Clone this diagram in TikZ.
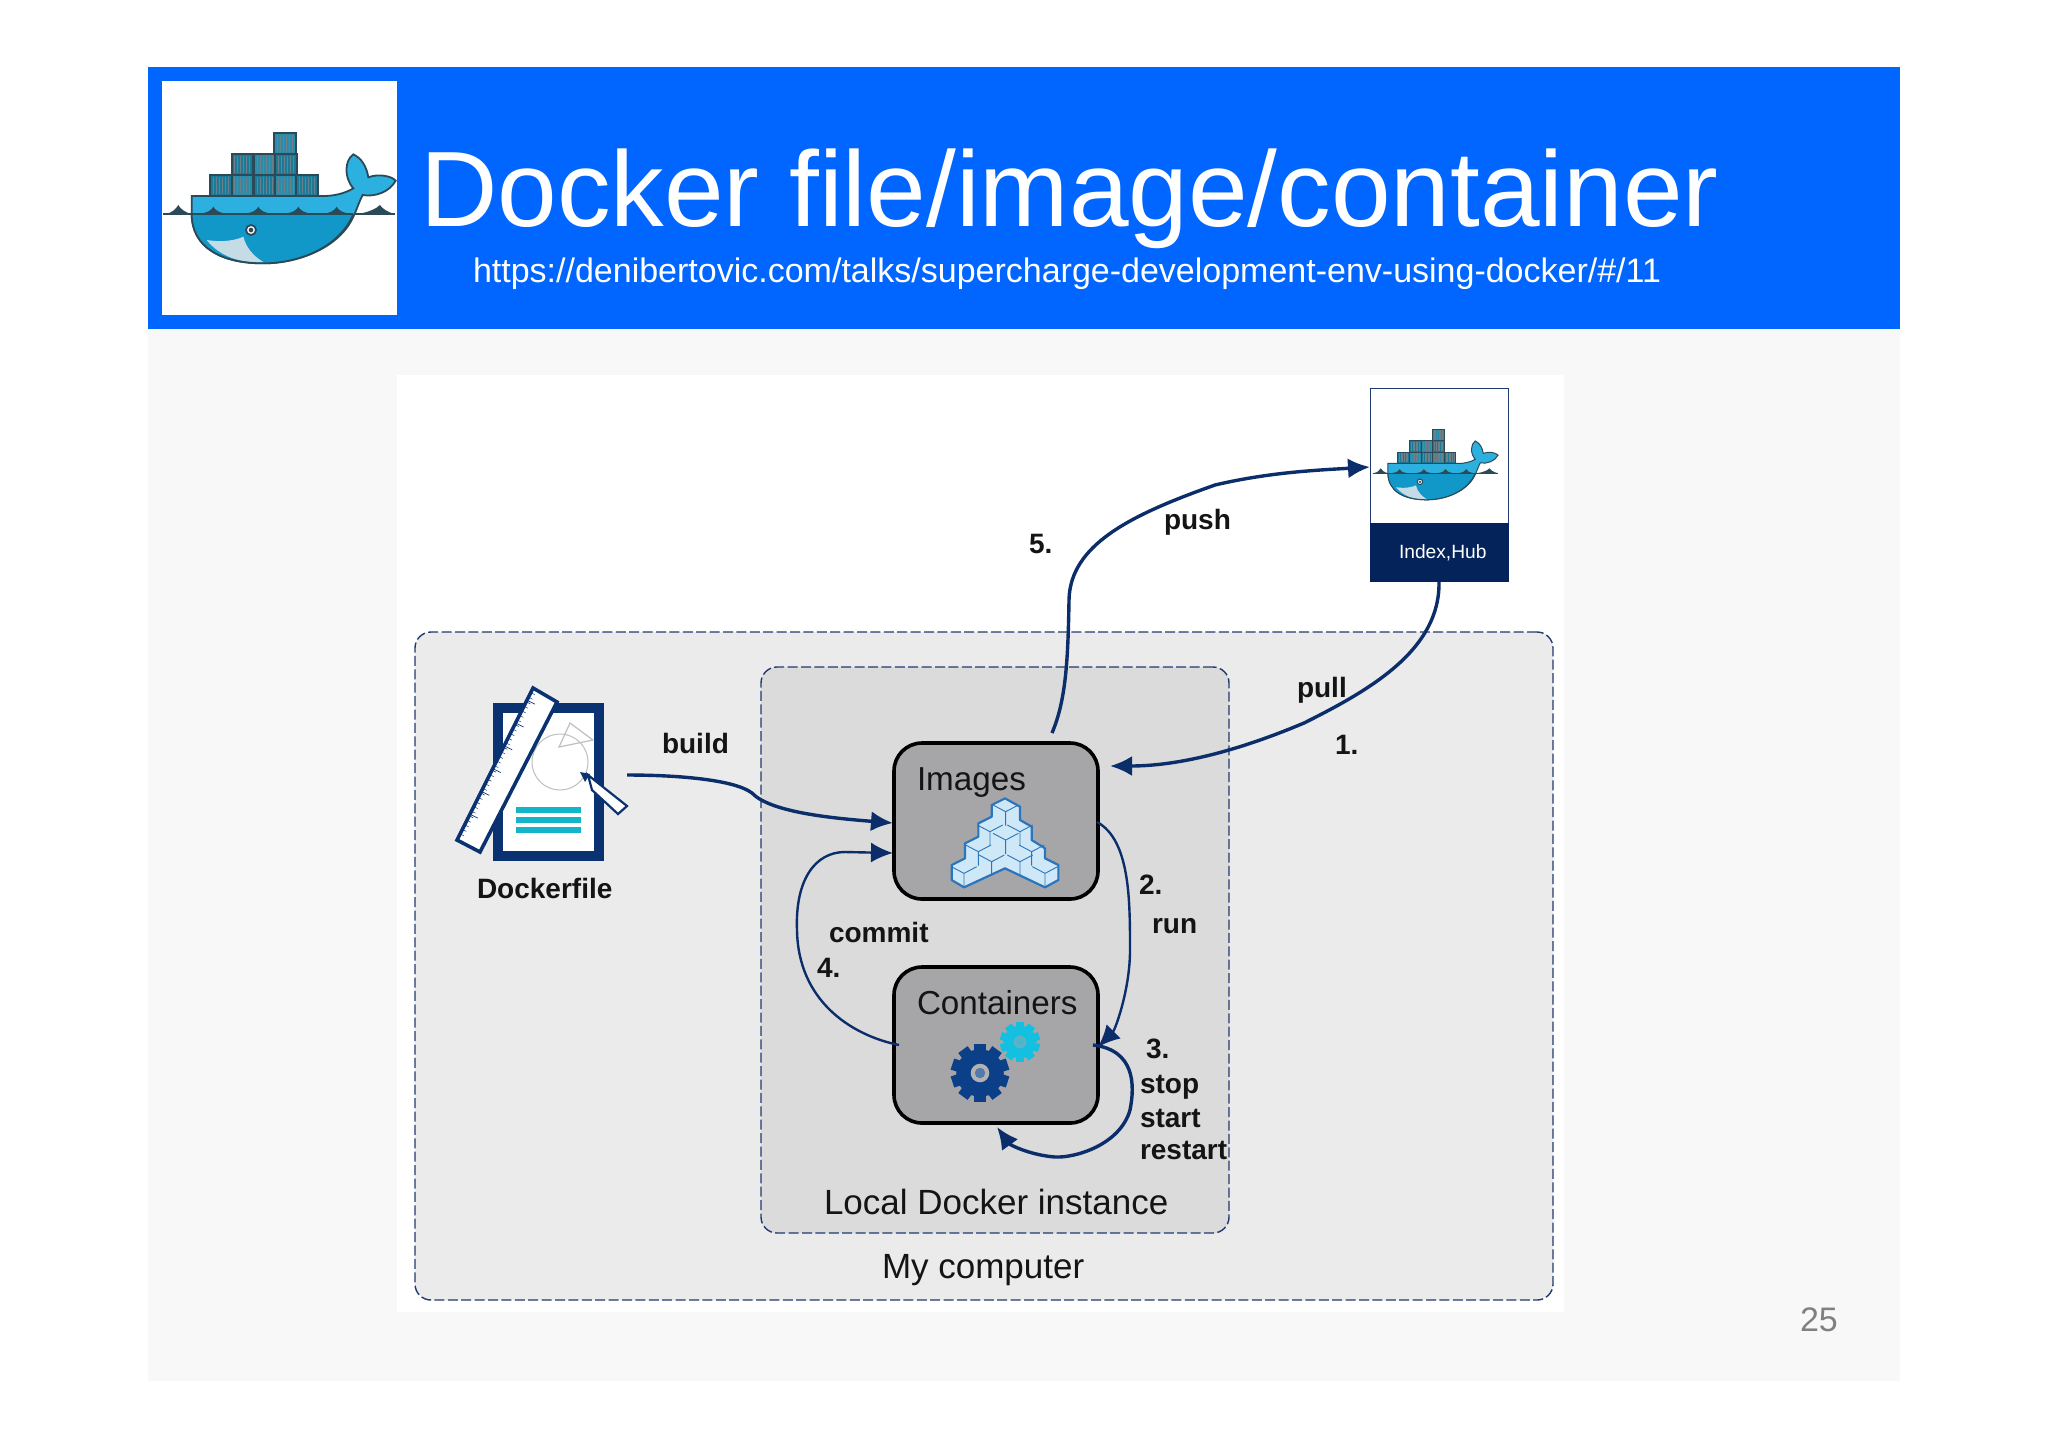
\documentclass[tikz,border=0pt]{standalone}
\usepackage{fontspec}
\setmainfont{Liberation Sans}
\usetikzlibrary{arrows.meta,calc}
\definecolor{slideblue}{HTML}{0066FF}
\definecolor{slidegray}{HTML}{F8F8F8}
\definecolor{navy}{HTML}{0B2E6B}
\definecolor{hubnavy}{HTML}{04235A}
\definecolor{dockblue}{HTML}{0B3270}
\definecolor{dashblue}{HTML}{1F3A6E}
\definecolor{boxgray}{HTML}{A6A6A9}
\definecolor{whaleline}{HTML}{2B4A57}
\definecolor{whaletop}{HTML}{2BB0DF}
\definecolor{whalelow}{HTML}{1197C8}
\definecolor{whalechin}{HTML}{C5DCE6}
\definecolor{cratedark}{HTML}{1A7A98}
\definecolor{cratelight}{HTML}{2B8BA8}
\definecolor{cubefill}{HTML}{CFE8F7}
\definecolor{cubeline}{HTML}{2A75BB}
\definecolor{gearnavy}{HTML}{0B3F88}
\definecolor{gearteal}{HTML}{14C0E0}
\definecolor{tealline}{HTML}{12B5C9}
\tikzset{
  flow/.style={navy,line width=1.7pt,-{Latex[length=11pt,width=10pt]}},
  thinflow/.style={flow,line width=1.2pt},
  dashbox/.style={draw=dashblue,line width=0.7pt,dash pattern=on 5pt off 1.7pt,rounded corners=8pt,inner sep=0pt,outer sep=0pt},
  dockbox/.style={draw=black,fill=boxgray,line width=1.8pt,rounded corners=14pt,inner sep=0pt,outer sep=0pt,minimum width=102pt,minimum height=78pt},
  plain/.style={anchor=base west,inner sep=0pt,outer sep=0pt},
  label/.style={plain,yshift=-0.5pt,font=\fontsize{14}{16}\selectfont\bfseries,text=black!92},
  boxtext/.style={plain,font=\fontsize{16.6}{18}\selectfont,text=black!92},
  pics/whale/.style={code={
    \draw[whaleline,line width=#1] (70,462) -- (765,462);
    \fill[whaleline] (75,462) .. controls (100,458) and (108,445) .. (115,435) .. controls (120,445) and (135,458) .. (155,462) -- cycle;
    \fill[whaleline] (650,462) .. controls (685,458) and (710,445) .. (720,435) .. controls (725,445) and (745,458) .. (765,462) -- cycle;
    \foreach \cx/\cy/\cc in {210/345/cratedark,275/345/cratelight,342/345/cratedark,405/345/cratelight,468/345/cratedark,275/282/cratedark,342/282/cratelight,405/282/cratedark,402/218/cratelight} {
      \filldraw[fill=\cc,draw=whaleline,line width=#1] (\cx,\cy) rectangle +(65,63);
      \foreach \r in {1,...,6}
        \draw[whaleline!70,line width=0.25pt] (\cx+\r*9,\cy+6) -- (\cx+\r*9,\cy+57);
    }
    \filldraw[fill=whaletop,draw=whaleline,line width=#1] (155,408) -- (535,408) .. controls (580,410) and (615,400) .. (640,385) .. controls (610,350) and (615,300) .. (640,283) .. controls (665,295) and (680,320) .. (685,352) .. controls (715,340) and (755,348) .. (767,362) .. controls (750,395) and (705,412) .. (668,405) .. controls (655,430) and (650,450) .. (640,470) .. controls (600,560) and (480,610) .. (370,610) .. controls (240,610) and (155,560) .. (155,460) -- cycle;
    \fill[whalelow] (155,462) -- (640,462) .. controls (600,560) and (480,610) .. (370,610) .. controls (240,610) and (155,560) .. (155,462) -- cycle;
    \fill[whalechin] (200,540) .. controls (250,548) and (290,540) .. (310,530) .. controls (320,570) and (350,595) .. (372,607) .. controls (300,610) and (240,590) .. (200,540) -- cycle;
    \draw[whaleline,line width=#1] (155,462) .. controls (155,560) and (240,610) .. (370,610) .. controls (480,610) and (600,560) .. (640,462);
    \draw[whaleline,line width=#1] (155,462) -- (640,462);
    \foreach \p in {220,355,475,590}
      \fill[whaleline] (\p-45,462) .. controls (\p-15,458) and (\p-5,450) .. (\p,440) .. controls (\p+5,450) and (\p+15,458) .. (\p+45,462) -- cycle;
    \filldraw[fill=white,draw=whaleline,line width=#1] (333,510) circle[radius=15];
    \fill[whaleline] (333,510) circle[radius=7];
  }},
  pics/cube/.style={code={
    \draw[cubeline,line width=0.45pt] (-38,-20) -- (0,0) -- (38,-20) (0,0) -- (0,42);
  }},
  pics/gear/.style n args={4}{code={
    \foreach \a in {0,36,...,324}
      \fill[#1,rotate=\a] (-#2*0.2,#2*0.72) rectangle (#2*0.2,#2);
    \fill[#1] (0,0) circle[radius=#2*0.82];
    \fill[#3] (0,0) circle[radius=#2*0.32];
    \fill[#4] (0,0) circle[radius=#2*0.18];
  }},
}
\begin{document}
\begin{tikzpicture}[x=0.5pt,y=-0.5pt]
\useasboundingbox (0,0) rectangle (2048,1447);
\fill[white] (0,0) rectangle (2048,1447);
% slide
\fill[slidegray] (148,329) rectangle (1900,1381);
\fill[slideblue] (148,67) rectangle (1900,329);
\fill[white] (162,81) rectangle (397,315);
\pic[scale=1/3] at (140,60) {whale=0.9pt};
\node[plain,text=white,font=\fontsize{53.6}{60}\selectfont] (title) at (420,226) {Docker file/image/container};
\node[plain,text=white,font=\fontsize{17}{20}\selectfont] (url) at (473,282) {https://denibertovic.com/talks/supercharge-development-env-using-docker/\#/11};
\node[plain,text=black!50,font=\fontsize{17}{20}\selectfont] (pagenum) at (1800,1331) {25};
% picture area
\fill[white] (397,375) rectangle (1564,1312);
\node[dashbox,fill=black!8,minimum width=569pt,minimum height=334pt] (computer) at (984,966) {};
\node[dashbox,fill=black!14,minimum width=234pt,minimum height=283pt] (localdocker) at (995,950) {};
\node[boxtext,font=\fontsize{17.5}{20}\selectfont] (computerlabel) at (882,1278) {My computer};
\node[boxtext,font=\fontsize{17.5}{20}\selectfont] (locallabel) at (824,1214) {Local Docker instance};
% main boxes
\node[dockbox] (images) at (996,821) {};
\node[dockbox] (containers) at (996,1045) {};
\node[boxtext] (imageslabel) at (917,790) {Images};
\node[boxtext] (containerslabel) at (917,1014) {Containers};
% cubes
\begin{scope}[shift={(940,790)}]
  \filldraw[fill=cubefill,draw=cubeline,line width=1.1pt,line join=round] (195/3,25/3) -- (240/3,50/3) -- (240/3,90/3) -- (275/3,110/3) -- (275/3,150/3) -- (315/3,175/3) -- (315/3,205/3) -- (355/3,225/3) -- (355/3,270/3) -- (315/3,292/3) -- (195/3,235/3) -- (72/3,292/3) -- (35/3,270/3) -- (35/3,225/3) -- (75/3,205/3) -- (75/3,160/3) -- (115/3,140/3) -- (115/3,100/3) -- (155/3,80/3) -- (155/3,45/3) -- cycle;
  \foreach \cx/\cy in {197/65,150/125,240/125,197/150,115/185,275/185,155/215,240/215,72/250,315/250}
    \pic[scale=1/3] at (\cx/3,\cy/3) {cube};
\end{scope}
% gears
\pic at (1020,1042) {gear={gearteal}{20}{gearteal!50!boxgray}{gearteal!60!boxgray}};
\pic at (980,1073) {gear={gearnavy}{29}{black!30}{gearnavy!70}};
% hub
\node[draw=dashblue,fill=white,inner sep=0pt,outer sep=0pt,minimum width=69pt,minimum height=68pt] (hubtop) at (1439,456) {};
\node[fill=hubnavy,inner sep=0pt,outer sep=0pt,minimum width=69.5pt,minimum height=29.5pt] (hubbottom) at (1439,552.5) {};
\pic[scale=0.18] at (1360,390) {whale=0.5pt};
\node[plain,text=white,font=\fontsize{9.6}{11}\selectfont] (hublabel) at (1399,558) {Index,Hub};
% dockerfile icon
\fill[dockblue] (493,703) rectangle (604,861);
\fill[white] (503,713) rectangle (594,851);
\foreach \y in {807,817,827}
  \fill[tealline] (516,\y) rectangle (581,\y+6);
\draw[black!25,line width=0.5pt] (560,762) circle[radius=28];
\draw[black!25,line width=0.6pt] (570,723) -- (593,740) -- (559,747) -- cycle;
\filldraw[fill=white,draw=dockblue,line width=1.1pt] (588,775) -- (627,806) -- (618,814) -- (592,790) -- cycle;
\fill[dockblue] (580,772) -- (590,774) -- (585,782) -- cycle;
\coordinate (rulera) at (533,688);
\coordinate (rulerb) at (557,702);
\coordinate (rulerc) at (480,852);
\coordinate (rulerd) at (457,840);
\filldraw[fill=white,draw=dockblue,line width=1.8pt] (rulera) -- (rulerb) -- (rulerc) -- (rulerd) -- cycle;
\foreach \t in {0.03,0.06,...,0.98}
  \draw[dockblue,line width=0.25pt] ($(rulera)!\t!(rulerd)$) -- ++(4,2);
\foreach \t in {0.08,0.23,...,0.95}
  \draw[dockblue,line width=0.35pt] ($(rulera)!\t!(rulerd)$) -- ++(8,4);
% connector ends
\coordinate (dockerout) at (627,775);
\coordinate (imgbuild) at (893,823);
\coordinate (imgcommit) at (893,853);
\coordinate (imgpull) at (1110,766);
\coordinate (imgrun) at (1097,822);
\coordinate (imgpush) at (1052,733);
\coordinate (hubin) at (1370,467);
\coordinate (conin) at (1098,1047);
\coordinate (conloop) at (1093,1045);
\coordinate (conbottom) at (997,1127);
\coordinate (conleft) at (899,1045);
% arrows
\draw[flow] (dockerout) .. controls (680,775) and (735,780) .. (752,793) .. controls (770,812) and (830,818) .. (imgbuild);
\draw[thinflow] (conleft) .. controls (850,1035) and (798,1000) .. (797,930) .. controls (795,880) and (815,852) .. (845,852) -- (imgcommit);
\draw[thinflow] (imgrun) .. controls (1130,840) and (1130,900) .. (1130,950) .. controls (1130,990) and (1115,1030) .. (conin);
\draw[flow] (conloop) .. controls (1135,1050) and (1135,1085) .. (1130,1110) .. controls (1120,1145) and (1075,1158) .. (1055,1157) .. controls (1030,1155) and (1010,1145) .. (conbottom);
\draw[flow] (imgpush) .. controls (1066,700) and (1068,660) .. (1069,600) .. controls (1070,545) and (1130,515) .. (1215,485) .. controls (1270,472) and (1320,470) .. (hubin);
\draw[flow] (hubbottom.south) .. controls (1440,650) and (1370,690) .. (1304,723) .. controls (1240,750) and (1180,766) .. (imgpull);
% labels
\node[label] (buildlabel) at (662,752) {build};
\node[label] (dockerfilelabel) at (477,897) {Dockerfile};
\node[label] (commitlabel) at (829,941) {commit};
\node[label] (fourlabel) at (817,976) {4.};
\node[label] (twolabel) at (1139,893) {2.};
\node[label] (runlabel) at (1152,932) {run};
\node[label] (threelabel) at (1146,1057) {3.};
\node[label] (stoplabel) at (1140,1092) {stop};
\node[label] (startlabel) at (1140,1126) {start};
\node[label] (restartlabel) at (1140,1158) {restart};
\node[label] (pushlabel) at (1164,528) {push};
\node[label] (fivelabel) at (1029,552) {5.};
\node[label] (pulllabel) at (1297,696) {pull};
\node[label] (onelabel) at (1335,753) {1.};
\end{tikzpicture}
\end{document}
